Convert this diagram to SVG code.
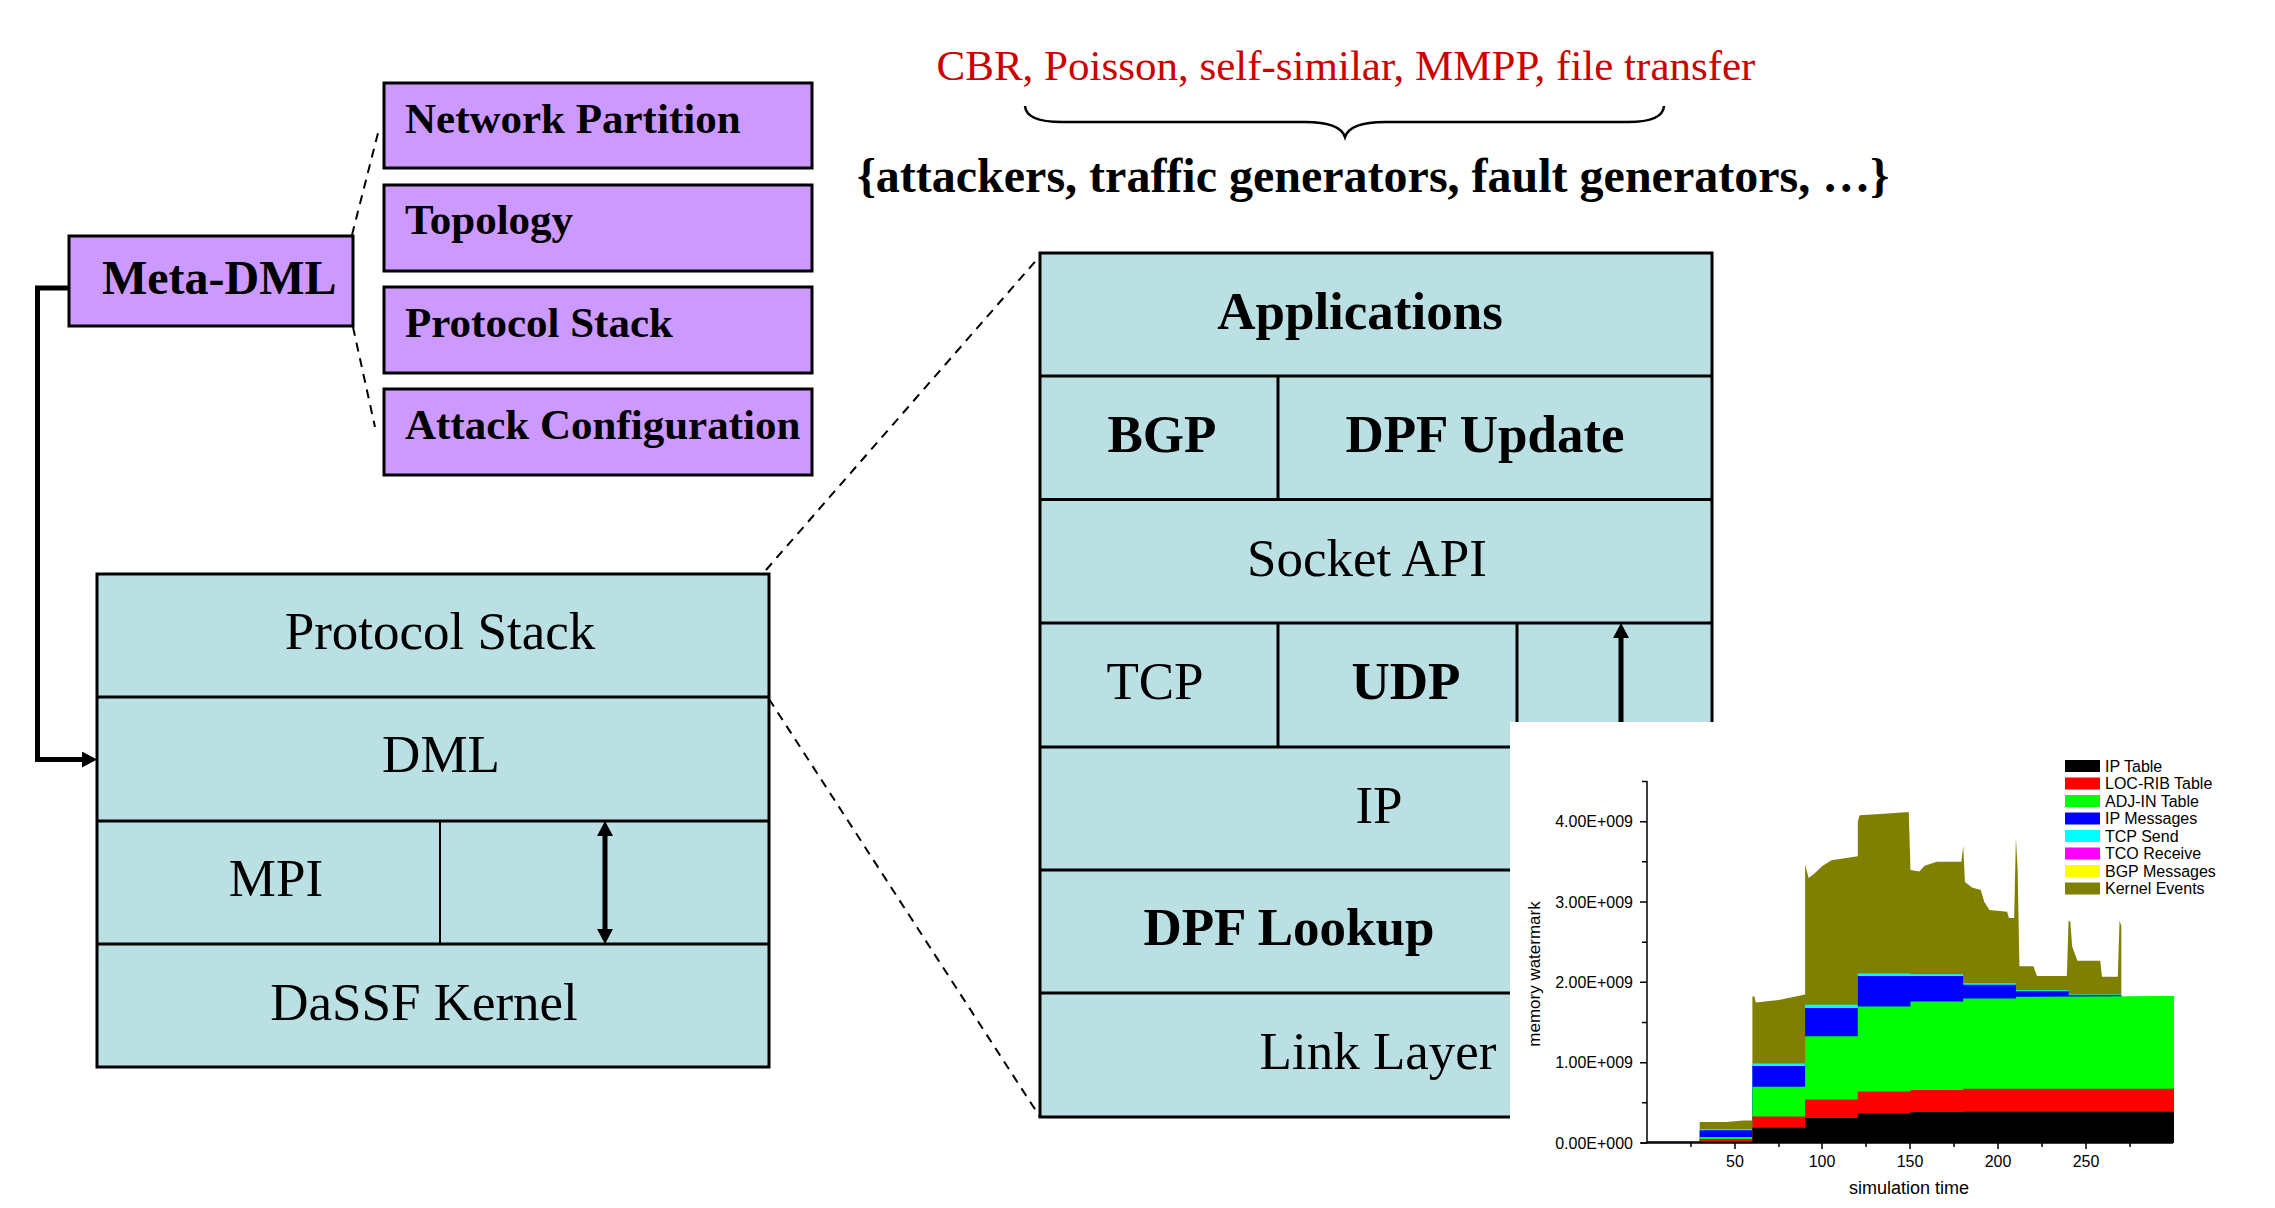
<svg xmlns="http://www.w3.org/2000/svg" width="2275" height="1208" viewBox="0 0 2275 1208">
<defs>
<style>
.serif{font-family:"Liberation Serif","Times New Roman",serif;}
.sans{font-family:"Liberation Sans",Arial,sans-serif;}
.purple{fill:#CC99FF;stroke:#000;stroke-width:3;}
.teal{fill:#BBE0E3;stroke:#000;stroke-width:3;}
.div{stroke:#000;stroke-width:3;fill:none;}
.pl{font-size:43px;font-weight:bold;fill:#000;}
.st{font-size:53px;fill:#000;text-anchor:middle;}
.b{font-weight:bold;}
.dash{stroke:#000;stroke-width:2;stroke-dasharray:9,7;fill:none;}
.arr{stroke:#000;stroke-width:5;fill:none;}
.ax{stroke:#000;stroke-width:1.5;fill:none;}
.tl{font-size:16px;fill:#000;}
</style>
<marker id="ah" viewBox="0 0 15 16" refX="2" refY="8" markerWidth="15" markerHeight="16" orient="auto-start-reverse" markerUnits="userSpaceOnUse">
<path d="M0,0 L15,8 L0,16 z" fill="#000"/>
</marker>
</defs>
<rect width="2275" height="1208" fill="#fff"/>

<g id="top-labels">
<text class="serif" x="1346" y="80" font-size="43" fill="#CC0000" text-anchor="middle">CBR, Poisson, self-similar, MMPP, file transfer</text>
<path d="M1025,106 Q1026,122 1062,122 L1305,122 Q1340,122 1345,137 Q1350,122 1385,122 L1628,122 Q1663,122 1664,106" fill="none" stroke="#000" stroke-width="2.5"/>
<text class="serif b" x="1373" y="192" font-size="48" text-anchor="middle" font-weight="bold">{attackers, traffic generators, fault generators, …}</text>
</g>

<g id="connectors">
<path class="dash" d="M352,235 L378,133"/>
<path class="dash" d="M353,327 L375,427"/>
<path class="dash" d="M766,570 L1040,256"/>
<path class="dash" d="M769,699 L1040,1117"/>
<path class="arr" d="M69,288 H37.5 V759.5 H84" marker-end="url(#ah)"/>
</g>

<g id="meta-dml">
<rect class="purple" x="69" y="236" width="284" height="90"/>
<text class="serif pl" x="102" y="294" style="font-size:48px">Meta-DML</text>
</g>
<g id="network-partition">
<rect class="purple" x="384" y="83" width="428" height="85"/>
<text class="serif pl" x="405" y="133">Network Partition</text>
</g>
<g id="topology">
<rect class="purple" x="384" y="185" width="428" height="86"/>
<text class="serif pl" x="405" y="234">Topology</text>
</g>
<g id="protocol-stack-cfg">
<rect class="purple" x="384" y="287" width="428" height="86"/>
<text class="serif pl" x="405" y="337">Protocol Stack</text>
</g>
<g id="attack-configuration">
<rect class="purple" x="384" y="389" width="428" height="86"/>
<text class="serif pl" x="405" y="439">Attack Configuration</text>
</g>

<g id="left-stack">
<rect class="teal" x="97" y="574" width="672" height="493"/>
<path class="div" d="M97,697 H769 M97,821 H769 M97,944 H769"/>
<path d="M440,821 V944" stroke="#000" stroke-width="2"/>
<path class="arr" d="M605,834 V931" marker-start="url(#ah)" marker-end="url(#ah)"/>
<text class="serif st" x="440" y="649">Protocol Stack</text>
<text class="serif st" x="441" y="772">DML</text>
<text class="serif st" x="276" y="896">MPI</text>
<text class="serif st" x="424" y="1020">DaSSF Kernel</text>
</g>

<g id="right-stack">
<rect class="teal" x="1040" y="253" width="672" height="864" stroke-width="4"/>
<path class="div" d="M1040,376 H1712 M1040,499.5 H1712 M1040,623 H1712 M1040,747 H1712 M1040,870 H1712 M1040,993 H1712"/>
<path class="div" d="M1278,376 V499.5 M1278,623 V747 M1517,623 V747"/>
<path class="arr" d="M1621,900 V636" marker-end="url(#ah)"/>
<text class="serif st b" x="1360" y="329">Applications</text>
<text class="serif st b" x="1162" y="452">BGP</text>
<text class="serif st b" x="1485" y="452">DPF Update</text>
<text class="serif st" x="1367" y="576">Socket API</text>
<text class="serif st" x="1155" y="699">TCP</text>
<text class="serif st b" x="1406" y="699">UDP</text>
<text class="serif st" x="1379" y="823">IP</text>
<text class="serif st b" x="1289" y="945">DPF Lookup</text>
<text class="serif st" x="1378" y="1069">Link Layer</text>
</g>

<g id="chart">
<rect x="1510" y="722" width="765" height="486" fill="#fff"/>
<g transform="translate(1647,1143) scale(1.7567,-80.33)">
<polygon fill="#808000" points="30,0 30,0.26 45,0.26 55,0.28 60,0.28 60,1.82 61,1.83 62,1.75 75,1.78 90,1.85 90,3.47 92,3.3 95,3.35 100,3.45 105,3.52 120,3.57 120,4.0 121,4.08 135,4.1 149,4.12 150,3.4 155,3.38 158,3.45 165,3.5 179,3.5 180,3.7 181,3.25 185,3.18 190,3.15 192,3.0 195,2.9 205,2.88 206,2.8 209,2.8 210,3.8 211,3.4 212,2.2 220,2.2 222,2.08 239,2.08 240,2.77 241,2.75 242,2.45 245,2.27 258,2.27 259,2.07 268,2.07 269,2.77 270,2.7 270,0"/>
<polygon fill="#00FFFF" points="30,0 30,0.17 60,0.17 60,0.99 90,0.99 90,1.72 120,1.72 120,2.11 150,2.11 150,2.10 180,2.10 180,1.99 210,1.99 210,1.90 240,1.90 240,1.85 270,1.85 270,0"/>
<polygon fill="#0000FF" points="30,0 30,0.16 60,0.16 60,0.96 90,0.96 90,1.68 120,1.68 120,2.08 180,2.08 180,1.97 210,1.97 210,1.89 240,1.89 240,1.84 270,1.84 270,0"/>
<polygon fill="#00FF00" points="30,0 30,0.075 60,0.075 60,0.70 90,0.70 90,1.33 120,1.33 120,1.70 150,1.70 150,1.76 180,1.76 180,1.80 210,1.80 210,1.82 300,1.83 300,0"/>
<polygon fill="#FF0000" points="30,0 30,0.05 60,0.05 60,0.33 90,0.33 90,0.54 120,0.54 120,0.64 150,0.64 150,0.66 180,0.66 180,0.675 300,0.675 300,0"/>
<polygon fill="#000000" points="30,0 30,0.02 60,0.02 60,0.19 90,0.19 90,0.31 120,0.31 120,0.37 150,0.37 150,0.385 180,0.385 180,0.39 300,0.39 300,0"/>
</g>
<path d="M1647,1142 H1700" stroke="#334" stroke-width="2"/>
<path class="ax" d="M1647,781 V1143 M1641,1143 H2173"/>
<path class="ax" d="M1640,821.7 H1647 M1640,902 H1647 M1640,982.3 H1647 M1640,1062.7 H1647 M1640,1143 H1647 M1642,781.5 H1647 M1642,861.8 H1647 M1642,942.2 H1647 M1642,1022.5 H1647 M1642,1102.8 H1647"/>
<path class="ax" d="M1691,1143 V1147 M1735,1143 V1149 M1779,1143 V1147 M1822,1143 V1149 M1866,1143 V1147 M1910,1143 V1149 M1954,1143 V1147 M1998,1143 V1149 M2042,1143 V1147 M2086,1143 V1149 M2130,1143 V1147"/>
<g class="sans tl" text-anchor="end">
<text x="1633" y="827">4.00E+009</text>
<text x="1633" y="907.5">3.00E+009</text>
<text x="1633" y="988">2.00E+009</text>
<text x="1633" y="1068">1.00E+009</text>
<text x="1633" y="1148.5">0.00E+000</text>
</g>
<g class="sans tl" text-anchor="middle">
<text x="1735" y="1167">50</text>
<text x="1822" y="1167">100</text>
<text x="1910" y="1167">150</text>
<text x="1998" y="1167">200</text>
<text x="2086" y="1167">250</text>
</g>
<text class="sans" x="1909" y="1194" font-size="18" text-anchor="middle">simulation time</text>
<text class="sans" transform="translate(1540,974) rotate(-90)" font-size="17" text-anchor="middle">memory watermark</text>
<g id="legend">
<rect x="2065" y="760" width="35" height="12" fill="#000"/>
<rect x="2065" y="777.5" width="35" height="12" fill="#FF0000"/>
<rect x="2065" y="795" width="35" height="12" fill="#00FF00"/>
<rect x="2065" y="812.5" width="35" height="12" fill="#0000FF"/>
<rect x="2065" y="830" width="35" height="12" fill="#00FFFF"/>
<rect x="2065" y="847.5" width="35" height="12" fill="#FF00FF"/>
<rect x="2065" y="865" width="35" height="12" fill="#FFFF00"/>
<rect x="2065" y="882.5" width="35" height="12" fill="#808000"/>
<g class="sans tl">
<text x="2105" y="771.5">IP Table</text>
<text x="2105" y="789">LOC-RIB Table</text>
<text x="2105" y="806.5">ADJ-IN Table</text>
<text x="2105" y="824">IP Messages</text>
<text x="2105" y="841.5">TCP Send</text>
<text x="2105" y="859">TCO Receive</text>
<text x="2105" y="876.5">BGP Messages</text>
<text x="2105" y="894">Kernel Events</text>
</g>
</g>
</g>
</svg>
